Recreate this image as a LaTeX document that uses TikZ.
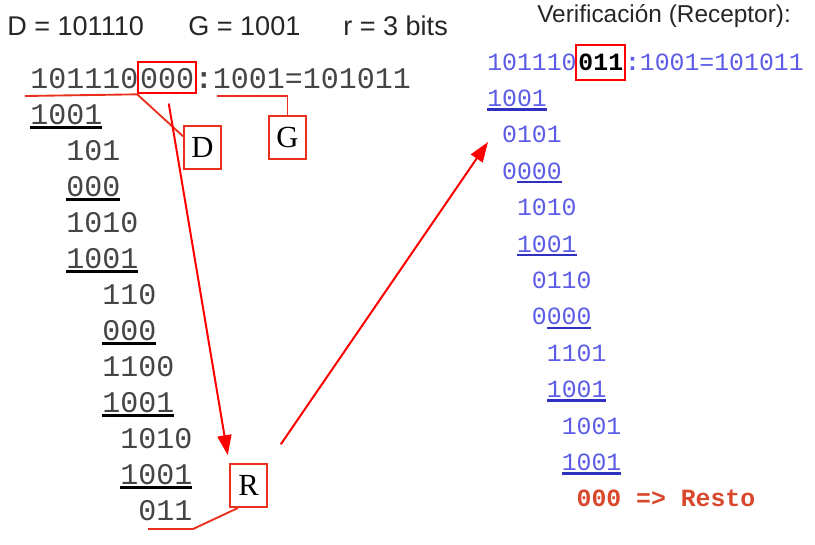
\documentclass[tikz,border=0pt]{standalone}
\usepackage{fontspec}
\setmainfont{Liberation Sans}
\newfontfamily\mono{Liberation Mono}
\newfontfamily\serifD{Liberation Serif}
\usetikzlibrary{arrows.meta, positioning, calc}

\definecolor{cabtexto}{HTML}{262626}
\definecolor{gristexto}{HTML}{454545}
\definecolor{azultexto}{HTML}{5C5CE6}
\definecolor{azulraya}{HTML}{3030C0}
\definecolor{rojoresto}{HTML}{D9482C}
\definecolor{rojolinea}{HTML}{E8301C}

\newcommand{\izq}{\mono\fontsize{22.5}{24}\selectfont}
\newcommand{\der}{\mono\fontsize{18.6}{20}\selectfont}
\newcommand{\subr}[2][black]{\setbox0\hbox{#2}\rlap{\textcolor{#1}{\rule[-0.17em]{\wd0}{0.1em}}}\box0}

\begin{document}
\begin{tikzpicture}[x=0.75pt, y=-0.75pt,
    fila/.style={anchor=base west, inner sep=0pt, font=\izq, text=gristexto},
    filav/.style={anchor=base west, inner sep=0pt, font=\der, text=azultexto},
    cab/.style={anchor=base west, inner sep=0pt, text=cabtexto},
    marca/.style={draw=red, line width=1.5pt, inner xsep=1.5pt, inner ysep=0pt},
    etiq/.style={draw=rojolinea, line width=1.4pt, minimum width=27.75pt, minimum height=32.25pt, inner sep=0pt, font=\serifD\fontsize{23}{23}\selectfont},
    linea/.style={draw=rojolinea, line width=1.4pt},
    flecha/.style={draw=red, line width=1.5pt, -{Triangle[length=15pt,width=10.5pt]}}]
    \useasboundingbox (0,0) rectangle (815,544);

    % cabecera
    \node[cab, font=\fontsize{20.3}{22}\selectfont] (hd) at (7,35) {D = 101110};
    \node[cab, font=\fontsize{20.3}{22}\selectfont] (hg) at (188,35) {G = 1001};
    \node[cab, font=\fontsize{20.3}{22}\selectfont] (hr) at (343,35) {r = 3 bits};
    \node[cab, font=\fontsize{18.3}{20}\selectfont] (verif) at (537,22) {Verificación (Receptor):};

    % division del emisor
    \node[fila] (a1) at (30,88) {101110};
    \node[fila, marca, text height=19.5pt, text depth=4pt] (d000) at ([xshift=-1pt]a1.base east) {000};
    \node[fila] (a1b) at ([xshift=-2pt]d000.base east) {\textbf{:}1001=101011};
    \node[fila] (a2) at (30,124) {\subr{1001}};
    \node[fila] (a3) at (66,160) {101};
    \node[fila] (a4) at (66,196) {\subr{000}};
    \node[fila] (a5) at (66,232) {1010};
    \node[fila] (a6) at (66,268) {\subr{1001}};
    \node[fila] (a7) at (102,304) {110};
    \node[fila] (a8) at (102,340) {\subr{000}};
    \node[fila] (a9) at (102,376) {1100};
    \node[fila] (a10) at (102,412) {\subr{1001}};
    \node[fila] (a11) at (120,448) {1010};
    \node[fila] (a12) at (120,484) {\subr{1001}};
    \node[fila] (a13) at (138,520) {011};

    % etiquetas
    \node[etiq] (D) at (202.5,147.5) {D};
    \node[etiq] (G) at (287.5,137.5) {G};
    \node[etiq] (R) at (248.5,485.5) {R};

    \coordinate (dini) at (25,96);
    \coordinate (gini) at (217,96);
    \coordinate (rini) at (148,529);
    \coordinate (rmed) at (193,529);
    \coordinate (chk) at (488,142);

    \draw[linea] (dini) -- (d000.south west) -- (D.150);
    \draw[linea] (gini) -| (G.north);
    \draw[linea] (rini) -- (rmed) -- (R.-115);

    \draw[flecha, shorten <=7pt, shorten >=6pt] (d000.south) -- (R.north west);
    \draw[flecha, shorten <=17pt] (R.north east) -- (chk);

    % verificacion del receptor
    \node[filav] (v1) at (487,70) {101110};
    \node[filav, marca, text=black, text height=19pt, text depth=7.5pt] (v011) at ([xshift=-1pt]v1.base east) {\textbf{011}};
    \node[filav] (v1b) at ([xshift=-1pt]v011.base east) {\textbf{:}1001=101011};
    \node[filav] (v2) at (487,106.4) {\subr[azulraya]{1001}};
    \node[filav] (v3) at (501.9,142.8) {0101};
    \node[filav] (v4) at (501.9,179.2) {0\subr[azulraya]{000}};
    \node[filav] (v5) at (516.8,215.6) {1010};
    \node[filav] (v6) at (516.8,252) {\subr[azulraya]{1001}};
    \node[filav] (v7) at (531.7,288.4) {0110};
    \node[filav] (v8) at (531.7,324.8) {0\subr[azulraya]{000}};
    \node[filav] (v9) at (546.6,361.2) {1101};
    \node[filav] (v10) at (546.6,397.6) {\subr[azulraya]{1001}};
    \node[filav] (v11) at (561.5,434) {1001};
    \node[filav] (v12) at (561.5,470.4) {\subr[azulraya]{1001}};
    \node[filav, text=rojoresto] (v13) at (576.4,506.8) {\textbf{000 => Resto}};
\end{tikzpicture}
\end{document}
